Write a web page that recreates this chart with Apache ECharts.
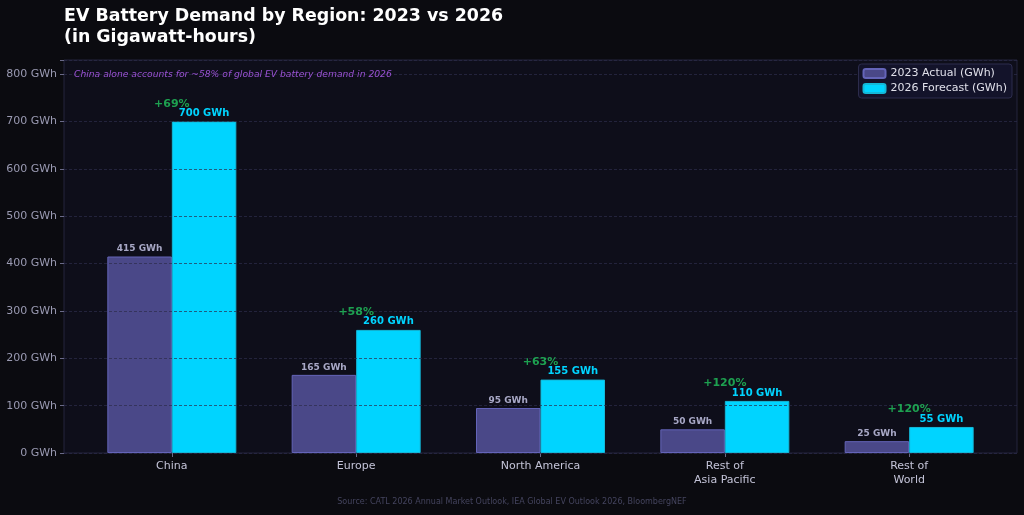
<!DOCTYPE html>
<html>
<head>
<meta charset="utf-8">
<script src="https://cdn.jsdelivr.net/npm/echarts@6/dist/echarts.min.js"></script>
<style>
  html, body { margin: 0; padding: 0; background: #0b0b10; }
  #chart { width: 1024px; height: 515px; }
</style>
</head>
<body>
<div id="chart"></div>
<script>
  // data
  const regions = ['China', 'Europe', 'North America', 'Rest of\nAsia Pacific', 'Rest of\nWorld']
  const actual2023 = [415, 165, 95, 50, 25]
  const forecast2026 = [700, 260, 155, 110, 55]
  const yTicks = [0, 100, 200, 300, 400, 500, 600, 700, 800]

  const fontFamily = 'DejaVu Sans'
  const purple = '#4a4888'
  const cyan = '#00d4ff'

  // growth % between the two years, per region
  function growth(i) {
    return '+' + Math.round((forecast2026[i] / actual2023[i] - 1) * 100) + '%'
  }

  const el = document.getElementById('chart')
  const myChart = echarts.init(el, null, { renderer: 'canvas' })

  const option = {
    backgroundColor: '#0b0b10',
    animation: false,
    textStyle: { fontFamily: fontFamily },
    title: {
      text: 'EV Battery Demand by Region: 2023 vs 2026\n(in Gigawatt-hours)',
      left: 64,
      top: 6,
      padding: 0,
      textStyle: {
        color: '#ffffff',
        fontSize: 17.4,
        fontWeight: 'bold',
        lineHeight: 21,
        fontFamily: fontFamily
      }
    },
    legend: {
      orient: 'vertical',
      right: 12,
      top: 64,
      padding: [3, 5, 3, 4],
      itemWidth: 22,
      itemHeight: 9,
      itemGap: 2,
      backgroundColor: '#13132a',
      borderColor: '#2c2c4c',
      borderWidth: 1,
      borderRadius: 3,
      data: ['2023 Actual (GWh)', '2026 Forecast (GWh)'],
      textStyle: { color: '#e0e0ea', fontSize: 11, lineHeight: 13, fontFamily: fontFamily }
    },
    graphic: [
      {
        type: 'text',
        left: 74,
        top: 70,
        z: 10,
        style: {
          text: 'China alone accounts for ~58% of global EV battery demand in 2026',
          fill: '#9a52d4',
          font: 'italic 9.2px "DejaVu Sans"'
        }
      },
      {
        type: 'text',
        left: 'center',
        top: 498,
        style: {
          text: 'Source: CATL 2026 Annual Market Outlook, IEA Global EV Outlook 2026, BloombergNEF',
          fill: '#44445e',
          font: '8px "DejaVu Sans"'
        }
      }
    ],
    grid: {
      left: 64,
      right: 7,
      top: 60,
      bottom: 62,
      show: true,
      backgroundColor: '#0e0e1a',
      borderColor: '#25253d',
      borderWidth: 1
    },
    xAxis: {
      type: 'value',
      position: 'bottom',
      min: -0.585,
      max: 4.585,
      splitLine: { show: false },
      axisLine: { show: false, onZero: false },
      axisPointer: { show: false },
      axisTick: {
        show: true,
        length: 4,
        customValues: [0, 1, 2, 3, 4],
        lineStyle: { color: '#6a6a88' }
      },
      axisLabel: {
        customValues: [0, 1, 2, 3, 4],
        color: '#c4c4d8',
        fontSize: 11,
        lineHeight: 14,
        margin: 6,
        formatter: function(v) {
          return regions[Math.round(v)]
        }
      }
    },
    yAxis: {
      type: 'value',
      position: 'left',
      min: 0,
      max: 830,
      interval: 100,
      z: 3,
      axisLine: { show: false, onZero: false },
      axisTick: { show: true, length: 4, lineStyle: { color: '#6a6a88' } },
      axisLabel: {
        color: '#9a9ab2',
        fontSize: 11,
        margin: 7,
        formatter: function(v) {
          return yTicks.indexOf(v) >= 0 ? v + ' GWh' : ''
        }
      },
      splitLine: {
        show: true,
        lineStyle: { color: 'rgba(44,44,76,0.7)', type: [3, 2], width: 1 }
      }
    },
    series: [
      {
        name: '2023 Actual (GWh)',
        type: 'bar',
        barWidth: 64.5,
        barGap: '0%',
        data: actual2023.map((v, i) => [i, v]),
        itemStyle: { color: purple, borderColor: '#6464b8', borderWidth: 1 },
        label: {
          show: true,
          position: 'top',
          distance: 3,
          color: '#a8a8c6',
          fontSize: 9,
          fontWeight: 'bold',
          formatter: p => p.value[1] + ' GWh'
        }
      },
      {
        name: '2026 Forecast (GWh)',
        type: 'bar',
        barWidth: 64.5,
        barGap: '0%',
        data: forecast2026.map((v, i) => [i, v]),
        itemStyle: { color: cyan, borderColor: '#14b8d8', borderWidth: 1 },
        label: {
          show: true,
          position: 'top',
          distance: 3,
          color: cyan,
          fontSize: 10,
          fontWeight: 'bold',
          formatter: p => p.value[1] + ' GWh'
        }
      },
      {
        // growth labels above each region
        name: 'growth',
        type: 'scatter',
        symbolSize: 0,
        z: 5,
        silent: true,
        data: forecast2026.map((v, i) => [i, v]),
        label: {
          show: true,
          position: 'top',
          distance: 12,
          color: '#22c55e',
          fontSize: 11,
          fontWeight: 'bold',
          formatter: p => growth(p.dataIndex)
        }
      }
    ]
  }

  myChart.setOption(option)
</script>
</body>
</html>
